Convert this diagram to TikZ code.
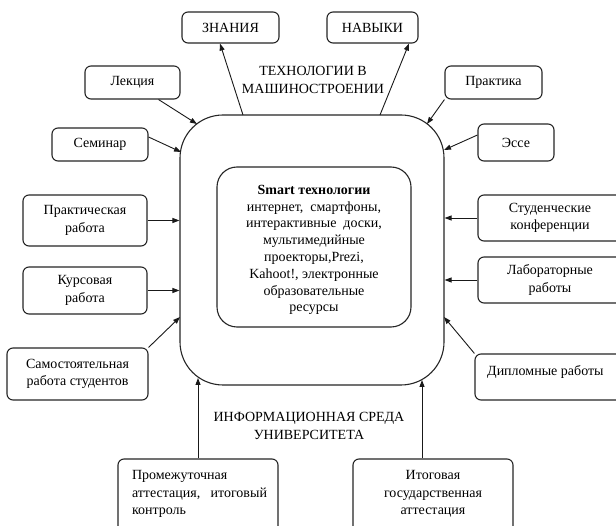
\documentclass[tikz,border=0pt]{standalone}
\usepackage{fontspec}
\setmainfont{Liberation Serif}
\usetikzlibrary{arrows.meta}

\tikzset{
  txt/.style={font=\fontsize{14}{17.5}\selectfont, inner sep=0pt, align=center},
  itembox/.style={draw=black!85, line width=1.1pt, rounded corners=6pt,
                  inner sep=0pt, font=\fontsize{14}{17.5}\selectfont, align=center},
  frame/.style={draw=black!85, line width=1.1pt},
  arr/.style={draw=black!90, line width=0.9pt, -{Triangle[length=7pt,width=5pt]}}
}

\begin{document}
\begin{tikzpicture}[x=1pt, y=-1pt]
  \path[use as bounding box] (0,0) rectangle (616,526);
  \fill[white] (0,0) rectangle (616,526);
  \clip (0,0) rectangle (616,526);

  % central environment and the smart technologies core
  \node[frame, rounded corners=43pt, minimum width=264pt, minimum height=270pt] (big) at (312,250) {};
  \node[frame, rounded corners=20pt, minimum width=194pt, minimum height=160pt] (core) at (314,247) {};
  \node[txt, font=\fontsize{14}{16.8}\selectfont] (coretext) at (314,250)
    {\textbf{Smart технологии}\\ интернет,\ \ смартфоны,\\ интерактивные\ \ доски,\\ мультимедийные\\
     проекторы,Prezi,\\ Kahoot!, электронные\\ образовательные\\ ресурсы};

  % captions
  \node[txt] (captop) at (313,80) {ТЕХНОЛОГИИ В\\ МАШИНОСТРОЕНИИ};
  \node[txt] (capbot) at (309,426) {ИНФОРМАЦИОННАЯ СРЕДА\\ УНИВЕРСИТЕТА};

  % outcomes
  \node[itembox, minimum width=97pt, minimum height=31pt] (zn) at (230.5,27.5) {ЗНАНИЯ};
  \node[itembox, minimum width=91pt, minimum height=31pt] (nav) at (372.5,27.5) {НАВЫКИ};

  % left column
  \node[itembox, minimum width=95pt, minimum height=33pt] (lek) at (132.5,82.5) {Лекция};
  \node[itembox, minimum width=96pt, minimum height=33pt] (sem) at (100,144.5) {Семинар};
  \node[itembox, minimum width=124pt, minimum height=51pt] (prw) at (85,220.5) {Практическая\\ работа};
  \node[itembox, minimum width=124pt, minimum height=47pt] (kur) at (85,290.5) {Курсовая\\ работа};
  \node[itembox, minimum width=141pt, minimum height=52pt] (srs) at (77.5,374) {Самостоятельная\\ работа студентов};

  % right column
  \node[itembox, minimum width=97pt, minimum height=33pt] (prak) at (493.5,82.5) {Практика};
  \node[itembox, minimum width=76pt, minimum height=37pt] (esse) at (516,142.5) {Эссе};
  \node[itembox, minimum width=144pt, minimum height=46pt] (stud) at (550,218) {Студенческие\\ конференции};
  \node[itembox, minimum width=144pt, minimum height=46pt] (lab) at (550,280) {Лабораторные\\ работы};
  \node[itembox, minimum width=147pt, minimum height=46pt] (dip) at (548.5,377) {};
  \node[txt, anchor=west] (diptext) at (487,372) {Дипломные работы};

  % bottom row
  \node[itembox, minimum width=160pt, minimum height=80pt] (prom) at (198,499) {};
  \node[txt, text width=135pt, align=left] (promtext) at (199.5,494)
    {Промежуточная\\ \makebox[135pt][s]{аттестация,\hfill итоговый}\\ контроль};
  \node[itembox, minimum width=160pt, minimum height=80pt] (itog) at (433,499) {};
  \node[txt] (itogtext) at (433,494) {Итоговая\\ государственная\\ аттестация};

  % points on the rounded border of the environment
  \coordinate (bLek) at (197,124);
  \coordinate (bSem) at (181,152);
  \coordinate (bPrak) at (427,124);
  \coordinate (bEsse) at (444,150);
  \coordinate (bSrs) at (180,317);
  \coordinate (bDip) at (444,317);
  \coordinate (bZn) at (243,115);
  \coordinate (bNav) at (380,115);
  \coordinate (bProm) at (198,378);
  \coordinate (bItog) at (422,380);

  % inputs into the environment
  \draw[arr] ([xshift=-22pt]lek.south east) -- (bLek);
  \draw[arr] ([yshift=7.5pt]sem.east) -- (bSem);
  \draw[arr] (prw.east) -- (prw.east -| big.west);
  \draw[arr] (kur.east) -- (kur.east -| big.west);
  \draw[arr] (srs.north east) -- (bSrs);
  \draw[arr] (prak.south west) -- (bPrak);
  \draw[arr] ([yshift=7.5pt]esse.west) -- (bEsse);
  \draw[arr] (stud.west) -- (stud.west -| big.east);
  \draw[arr] (lab.west) -- (lab.west -| big.east);
  \draw[arr] (dip.north west) -- (bDip);
  \draw[arr] (prom.north) -- (bProm);
  \draw[arr] ([xshift=-11pt]itog.north) -- (bItog);

  % outcomes of the environment
  \draw[arr] (bZn) -- ([xshift=-10.5pt]zn.south);
  \draw[arr] (bNav) -- ([xshift=36.5pt]nav.south);
\end{tikzpicture}
\end{document}
